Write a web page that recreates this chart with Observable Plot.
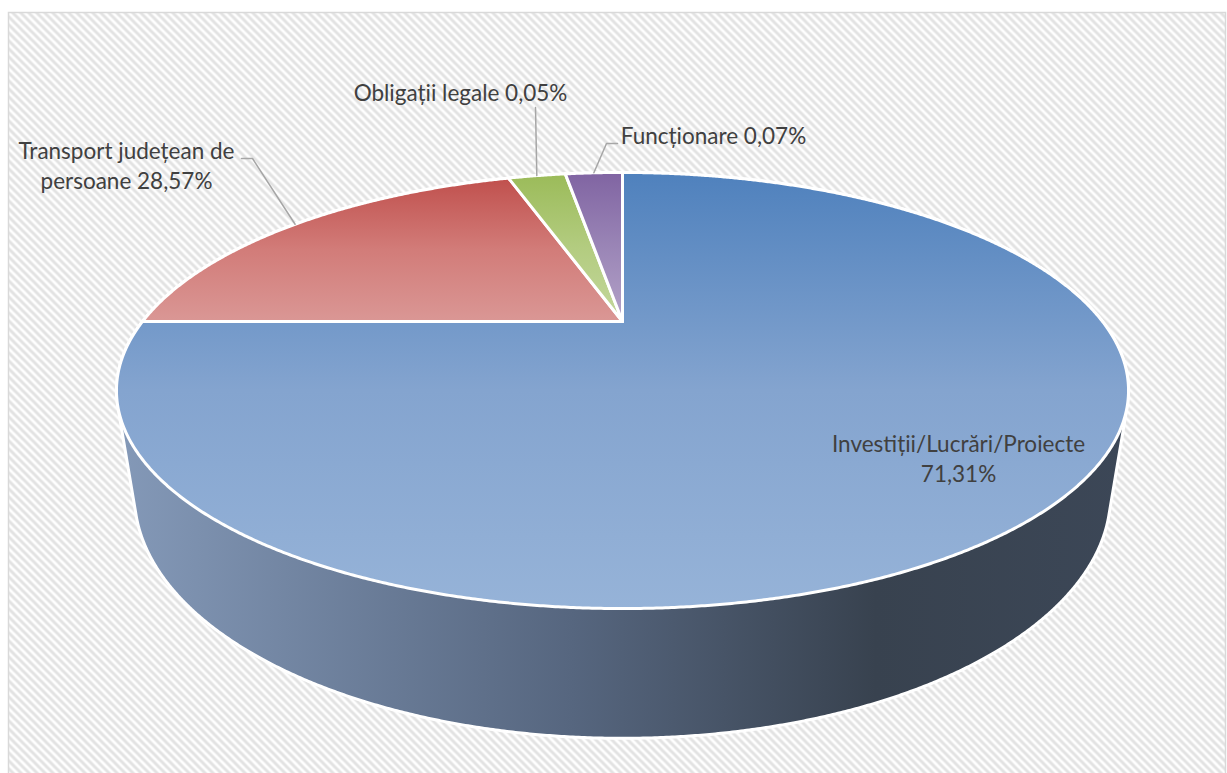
<!DOCTYPE html>
<html>
<head>
<meta charset="utf-8">
<script src="https://cdn.jsdelivr.net/npm/d3@7"></script>
<script src="https://cdn.jsdelivr.net/npm/@observablehq/plot@0.6"></script>
<style>
  html, body { margin: 0; padding: 0; background: #ffffff; overflow: hidden; }
  #chart svg { display: block; }
</style>
</head>
<body>
<div id="chart"></div>
<script>
// ---------------- DATA ----------------
const categories = [
  "Investiții/Lucrări/Proiecte",
  "Transport județean de persoane",
  "Obligații legale",
  "Funcționare"
];
// percentages printed on the labels
const labelPercents = ["71,31%", "28,57%", "0,05%", "0,07%"];
// label texts as shown (line breaks as in the picture)
const labelTexts = [
  "Investiții/Lucrări/Proiecte\n71,31%",
  "Transport județean de\npersoane 28,57%",
  "Obligații legale 0,05%",
  "Funcționare 0,07%"
];
// angular share of each slice as drawn in the picture (clockwise from 12 o'clock)
const sliceShares = [75, 20, 2.5, 2.5];

// ---------------- STYLE / LAYOUT ----------------
const W = 1227, H = 776;
const topGradients = [
  ["#4f81bd", "#84a4cf", "#96b3d8"],
  ["#c0504d", "#d27c79", "#da9795"],
  ["#9bbb59", "#b3cc80", "#c4d79d"],
  ["#8064a2", "#9a85b6", "#b4a3c8"]
];
const sideStops = [[0, "#8499b8"], [0.45, "#56667f"], [0.75, "#38424f"], [1, "#3c4757"]];
// label anchor (center x, baseline of last line)
const labelAnchors = [[958, 481], [126, 188], [460, 100], [713, 143]];
// leader line elbows (before reaching slice rim), null = no leader
const leaderElbows = [null, [[241, 158], [252, 158]], [[535, 107]], [[617, 143], [606, 143]]];

// 3D perspective camera for the pie
const cam = { cx: 622, cy: 321, F: 1384.1, D: 2.8835, sinA: 0.40875, cosA: 0.91265, depth: 0.234 };
function project(r, theta, h) {
  const u = r * Math.sin(theta), v = -r * Math.cos(theta);
  const den = cam.D + h * cam.sinA - v * cam.cosA;
  return { x: cam.cx + cam.F * u / den, y: cam.cy + cam.F * (h * cam.cosA + v * cam.sinA) / den };
}

// ---------------- GEOMETRY ----------------
const table = categories.map((c, i) => ({ name: c, share: sliceShares[i], i }));
const arcs = d3.pie().sort(null).value(d => d.share)(table);

const step = Math.PI / 720;
const slicePolys = arcs.map(a => {
  const pts = [project(0, 0, 0)];
  const n = Math.max(2, Math.ceil((a.endAngle - a.startAngle) / step));
  for (let k = 0; k <= n; k++) pts.push(project(1, a.startAngle + (a.endAngle - a.startAngle) * k / n, 0));
  pts.push(project(0, 0, 0));
  return pts;
});

// side of the cylinder: hull of top and bottom rims
const rimPts = [];
for (let k = 0; k < 1440; k++) {
  const t = 2 * Math.PI * k / 1440;
  const p = project(1, t, 0), q = project(1, t, cam.depth);
  rimPts.push([p.x, p.y], [q.x, q.y]);
}
const hull = d3.polygonHull(rimPts);
const sidePts = hull.map(([x, y]) => ({ x, y }));
sidePts.push(sidePts[0]);

// leader lines
const leaders = [];
arcs.forEach((a, i) => {
  if (!leaderElbows[i]) return;
  const mid = (a.startAngle + a.endAngle) / 2;
  const end = project(1, mid, 0);
  const pts = leaderElbows[i].map(([x, y]) => ({ x, y, k: i }));
  pts.push({ x: end.x, y: end.y, k: i });
  leaders.push(...pts);
});

const labels = labelTexts.map((t, i) => ({ text: t, x: labelAnchors[i][0], y: labelAnchors[i][1] }));

// ---------------- PLOT ----------------
const svg = Plot.plot({
  width: W,
  height: H,
  marginLeft: 8, marginTop: 12, marginRight: 2, marginBottom: 0,
  x: { domain: [0, W], range: [0, W], axis: null },
  y: { domain: [0, H], range: [0, H], axis: null },
  style: { background: "#ffffff", overflow: "visible" },
  marks: [
    Plot.frame({ fill: "url(#hatch)", stroke: "#d9d9d9", strokeWidth: 1.5 }),
    Plot.line(sidePts, { x: "x", y: "y", fill: "url(#sideGrad)", stroke: "#ffffff", strokeWidth: 3, strokeLinejoin: "round" }),
    ...slicePolys.map((pts, i) => Plot.line(pts, {
      x: "x", y: "y", fill: `url(#topGrad${i})`, stroke: "#ffffff", strokeWidth: 3, strokeLinejoin: "round"
    })),
    Plot.line(leaders, { x: "x", y: "y", z: "k", stroke: "#a6a6a6", strokeWidth: 1.5, strokeLinejoin: "miter" }),
    Plot.text(labels, {
      x: "x", y: "y", text: "text",
      textAnchor: "middle", lineAnchor: "bottom", lineHeight: 1.31,
      fontFamily: "Lato", fontSize: 22.5, fill: "#404040"
    })
  ]
});

// gradient and pattern definitions
const defs = d3.select(svg).insert("defs", ":first-child");
const pat = defs.append("pattern").attr("id", "hatch").attr("patternUnits", "userSpaceOnUse")
  .attr("width", 8).attr("height", 8);
pat.append("rect").attr("width", 8).attr("height", 8).attr("fill", "#ffffff");
pat.append("path").attr("d", "M-2,6L2,10M0,0L8,8M6,-2L10,2")
  .attr("stroke", "#e2e2e2").attr("stroke-width", 3);
topGradients.forEach((cols, i) => {
  const g = defs.append("linearGradient").attr("id", `topGrad${i}`)
    .attr("x1", 0).attr("y1", 0).attr("x2", 0).attr("y2", 1);
  cols.forEach((c, k) => g.append("stop").attr("offset", k / (cols.length - 1)).attr("stop-color", c));
});
const sg = defs.append("linearGradient").attr("id", "sideGrad").attr("x1", 0).attr("y1", 0).attr("x2", 1).attr("y2", 0);
sideStops.forEach(([o, c]) => sg.append("stop").attr("offset", o).attr("stop-color", c));

document.getElementById("chart").appendChild(svg);
</script>
</body>
</html>
